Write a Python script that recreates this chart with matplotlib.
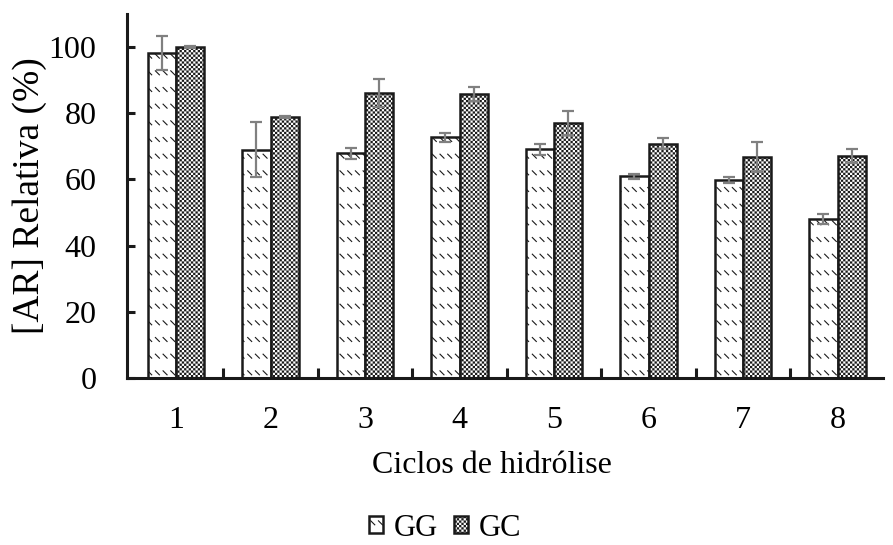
import numpy as np
import matplotlib
matplotlib.use("Agg")
import matplotlib.pyplot as plt
import matplotlib.hatch as mhatch
from matplotlib.path import Path

# ---- data -------------------------------------------------------------
ciclos = ["1", "2", "3", "4", "5", "6", "7", "8"]
gg = [98.3, 69.0, 67.9, 72.7, 69.1, 60.9, 59.8, 48.1]
gg_err = [5.2, 8.3, 1.7, 1.4, 1.7, 0.8, 0.8, 1.5]
gc = [99.9, 78.9, 86.1, 85.8, 77.1, 70.8, 66.9, 67.1]
gc_err = [0.3, 0.3, 4.2, 2.0, 3.6, 1.7, 4.5, 2.1]
y_ticks = [0, 20, 40, 60, 80, 100]

HATCH_LW = 0.8  # points


# ---- custom fill patterns ---------------------------------------------
class DashedDiagonal(mhatch.HatchPatternBase):
    """Rows of short '\\' dashes (hatch character '\\')."""
    cols, rows, seg = 13, 6, 0.04

    def __init__(self, hatch, density):
        self.num_vertices = self.cols * self.rows * 2 if hatch.count("\\") else 0

    def set_vertices_and_codes(self, vertices, codes):
        xs = (np.arange(self.cols) + 0.2) / self.cols
        ys = (np.arange(self.rows) + 0.75) / self.rows
        gx, gy = np.meshgrid(xs, ys)
        gx, gy = gx.ravel(), gy.ravel()
        vertices[0::2, 0] = gx
        vertices[0::2, 1] = gy
        vertices[1::2, 0] = gx + self.seg
        vertices[1::2, 1] = gy - self.seg
        codes[0::2] = Path.MOVETO
        codes[1::2] = Path.LINETO


class Checkerboard(mhatch.HatchPatternBase):
    """Fine checkerboard of filled squares (hatch character '*')."""
    n = 44
    inset = HATCH_LW / 72 / 2

    def __init__(self, hatch, density):
        self.num_vertices = (self.n * self.n // 2) * 5 if hatch.count("*") else 0

    def set_vertices_and_codes(self, vertices, codes):
        n = self.n
        c = 1.0 / n
        i, j = np.meshgrid(np.arange(n), np.arange(n))
        mask = (i + j) % 2 == 0
        x0 = i[mask] * c + self.inset
        y0 = j[mask] * c + self.inset
        s = max(c - 2 * self.inset, 1e-4)
        unit = np.array([[0, 0], [1, 0], [1, 1], [0, 1], [0, 0]], float) * s
        sq = unit[None, :, :] + np.stack([x0, y0], axis=1)[:, None, :]
        vertices[:] = sq.reshape(-1, 2)
        cc = np.array([Path.MOVETO, Path.LINETO, Path.LINETO, Path.LINETO,
                       Path.CLOSEPOLY], dtype=Path.code_type)
        codes[:] = np.tile(cc, len(x0))


for k, cls in enumerate(mhatch._hatch_types):
    if cls is mhatch.SouthEastHatch:
        mhatch._hatch_types[k] = DashedDiagonal
    elif cls is mhatch.Stars:
        mhatch._hatch_types[k] = Checkerboard

# ---- style ------------------------------------------------------------
plt.rcParams["font.family"] = ["Liberation Serif", "DejaVu Serif"]
plt.rcParams["hatch.color"] = "black"
plt.rcParams["hatch.linewidth"] = HATCH_LW

fig = plt.figure(figsize=(8.93, 5.45), dpi=100)
ax = fig.add_axes([127 / 893, 1 - 378 / 545, (883 - 127) / 893, (378 - 14) / 545])

x = np.arange(1, len(ciclos) + 1)
w = 0.3

ax.bar(x - w / 2, gg, width=w, facecolor="white", edgecolor="#1a1a1a",
       linewidth=1.8, hatch="\\", label="GG", zorder=2)
ax.bar(x + w / 2, gc, width=w, facecolor="white", edgecolor="#1a1a1a",
       linewidth=1.8, hatch="*", label="GC", zorder=2)

err_style = dict(fmt="none", ecolor="#808080", elinewidth=1.6,
                 capsize=4.5, capthick=1.6, zorder=3)
ax.errorbar(x - w / 2, gg, yerr=gg_err, **err_style)
ax.errorbar(x + w / 2, gc, yerr=gc_err, **err_style)

ax.set_xlim(0.48, 8.48)
ax.set_ylim(0, 110)

for side in ("top", "right"):
    ax.spines[side].set_visible(False)
for side in ("left", "bottom"):
    ax.spines[side].set_linewidth(2.2)
    ax.spines[side].set_color("#1a1a1a")

ax.set_yticks(y_ticks)
ax.set_yticklabels([str(v) for v in y_ticks])
ax.tick_params(axis="y", direction="in", length=6, width=2.2,
               pad=22, labelsize=23, color="#1a1a1a")

ax.set_xticks(x)
ax.set_xticklabels(ciclos)
ax.set_xticks(np.arange(1.5, len(ciclos), 1.0), minor=True)
ax.tick_params(axis="x", which="major", length=0, pad=20, labelsize=23)
ax.tick_params(axis="x", which="minor", direction="in", length=7, width=2.2,
               color="#1a1a1a")

ax.set_xlabel("Ciclos de hidrólise", fontsize=23, labelpad=14)
ax.xaxis.set_label_coords(0.483, -0.20)
ax.set_ylabel("[AR] Relativa (%)", fontsize=27, labelpad=1)

fig.legend(loc="center", bbox_to_anchor=(445 / 893, 1 - 528 / 545),
           ncol=2, frameon=False, fontsize=22,
           handlelength=0.47, handleheight=0.47, handletextpad=0.35,
           columnspacing=0.5, borderaxespad=0)

fig.savefig("out.png", dpi=100)
